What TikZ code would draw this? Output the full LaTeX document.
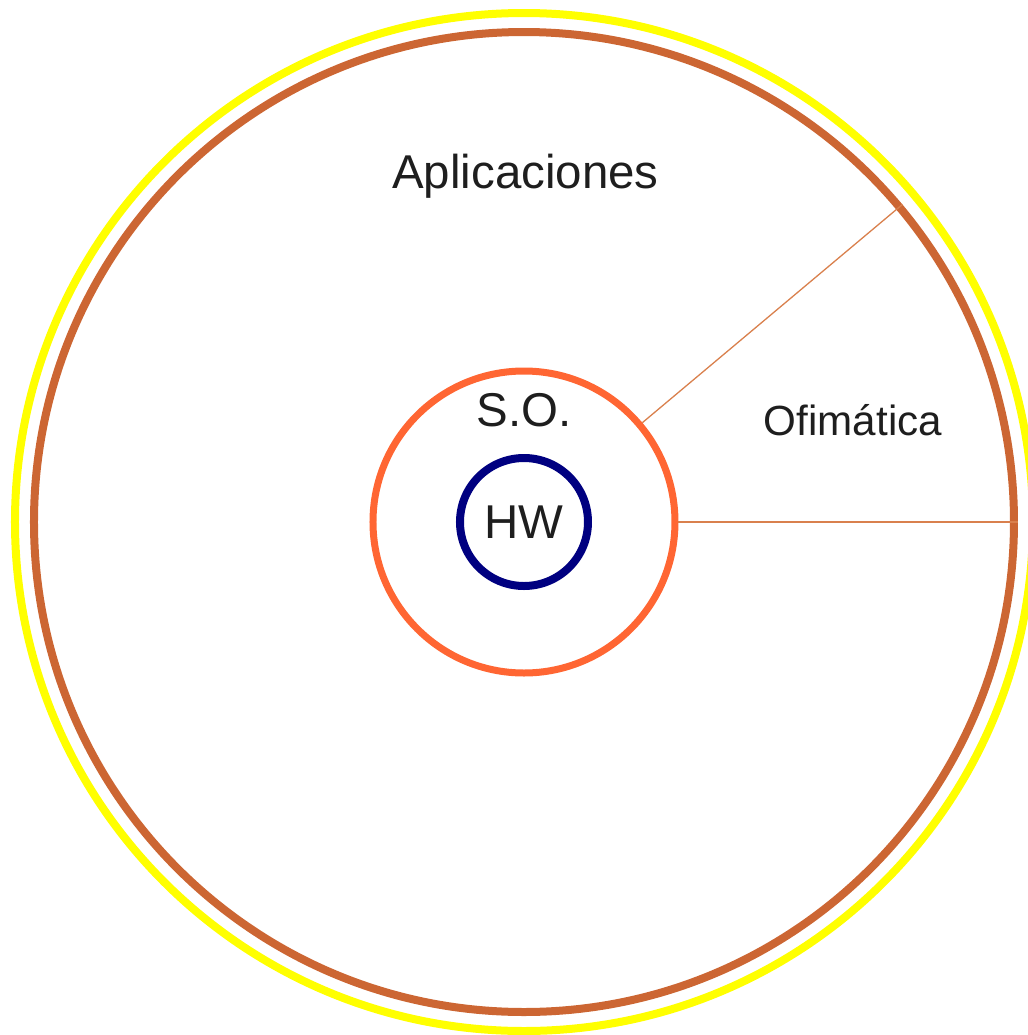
\documentclass[tikz,border=0pt]{standalone}
\usepackage{fontspec}
\setmainfont{Liberation Sans}
\usetikzlibrary{positioning}
\usetikzlibrary{calc}

\definecolor{ringyellow}{HTML}{FFFF00}
\definecolor{ringbrown}{HTML}{CC6633}
\definecolor{ringorange}{HTML}{FF6633}
\definecolor{ringnavy}{HTML}{000080}
\definecolor{textgray}{HTML}{1E1E1E}
\definecolor{sepline}{HTML}{D9804D}

\begin{document}
\begin{tikzpicture}

\useasboundingbox (-5.24cm, -5.13cm) rectangle (5.04cm, 5.22cm);

\coordinate (C) at (0, 0);

\node[draw=ringyellow, line width=0.08cm, circle, inner sep=0pt, minimum size=10.18cm] (ALL) at (C) {};
\node[draw=ringbrown, line width=0.08cm, circle, inner sep=0pt, minimum size=9.80cm] (APP) at (C) {};
\node[draw=ringorange, line width=0.07cm, circle, inner sep=0pt, minimum size=3.02cm] (SO) at (C) {};
\node[draw=ringnavy, line width=0.08cm, circle, inner sep=0pt, minimum size=1.28cm, text=textgray, font=\fontsize{13.5pt}{16pt}\selectfont] (HW) at (C) {HW};

\node[text=textgray, font=\fontsize{13.5pt}{16pt}\selectfont] (APPTXT) at ($(C)+(0.015cm, 3.46cm)$) {Aplicaciones};
\node[text=textgray, font=\fontsize{13.5pt}{16pt}\selectfont] (SOTXT)  at ($(C)+(0cm, 1.12cm)$) {S.O.};
\node[text=textgray, font=\fontsize{12pt}{14pt}\selectfont] (OFI) at ($(C)+(3.29cm, 1.02cm)$) {Ofimática};

\draw[sepline, line width=0.013cm] (SO.40) -- (APP.40);
\draw[sepline, line width=0.013cm] (SO.0) -- (APP.0);

\end{tikzpicture}
\end{document}
